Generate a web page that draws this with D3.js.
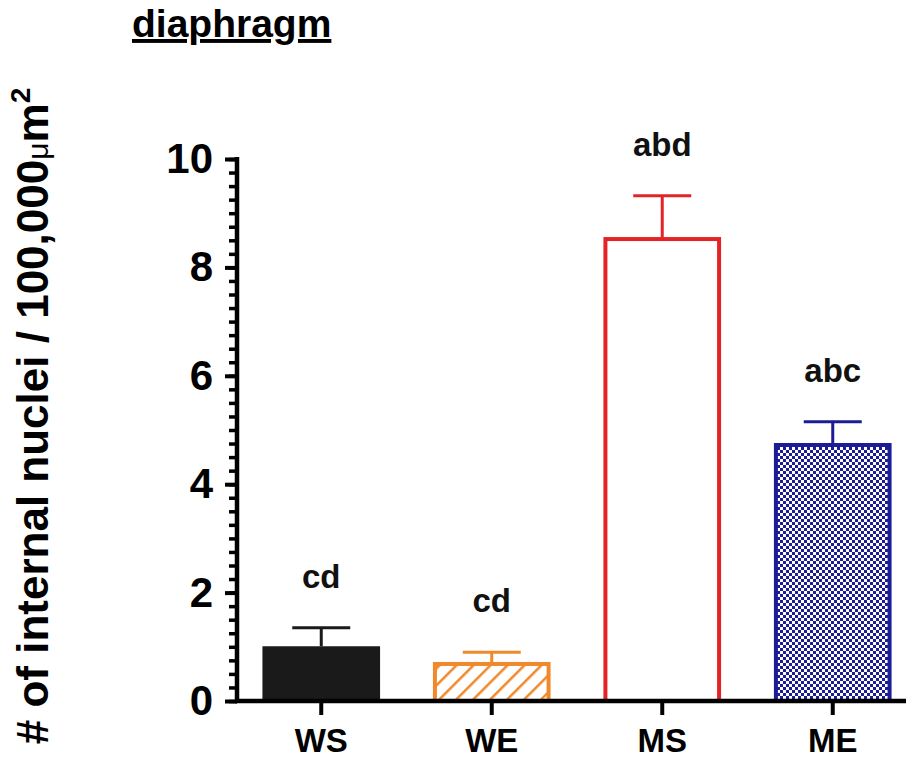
<!DOCTYPE html>
<html>
<head>
<meta charset="utf-8">
<script src="https://cdn.jsdelivr.net/npm/d3@7"></script>
<style>
  body { margin: 0; background: #fff; }
  text { font-family: "Liberation Sans", Arial, sans-serif; font-weight: bold; }
</style>
</head>
<body>
<div id="chart"></div>
<script>
// data
const groups = ['WS', 'WE', 'MS', 'ME'];
const means = [1.01, 0.72, 8.56, 4.76];
const errTops = [1.35, 0.90, 9.32, 5.15];
const letters = ['cd', 'cd', 'abd', 'abc'];
const yTicks = [0, 2, 4, 6, 8, 10];
const yMinorTicks = d3.range(0, 41).map(i => i * 0.25);

const W = 908, H = 774;
const svg = d3.select('#chart').append('svg')
  .attr('width', W)
  .attr('height', H);

// fill patterns
const defs = svg.append('defs');
const hatch = defs.append('pattern')
  .attr('id', 'hatch')
  .attr('patternUnits', 'userSpaceOnUse')
  .attr('width', 12).attr('height', 12)
  .attr('patternTransform', 'rotate(45)');
hatch.append('rect').attr('width', 12).attr('height', 12).attr('fill', '#fff');
hatch.append('line')
  .attr('x1', 0).attr('y1', 0).attr('x2', 0).attr('y2', 12)
  .attr('stroke', '#f0892b').attr('stroke-width', 5);

const checks = defs.append('pattern')
  .attr('id', 'checks')
  .attr('patternUnits', 'userSpaceOnUse')
  .attr('width', 6).attr('height', 6);
checks.append('rect').attr('width', 6).attr('height', 6).attr('fill', '#fff');
checks.append('rect').attr('width', 3).attr('height', 3).attr('fill', '#1c1c96');
checks.append('rect').attr('x', 3).attr('y', 3).attr('width', 3).attr('height', 3).attr('fill', '#1c1c96');

const strokes = ['#1a1a1a', '#f0892b', '#e42326', '#1c1c96'];
const fills = ['#1a1a1a', 'url(#hatch)', '#ffffff', 'url(#checks)'];

// scales
const x = d3.scaleBand().domain(groups).range([236, 918]).paddingInner(0.31).paddingOuter(0.155);
const y = d3.scaleLinear().domain([0, 10]).range([701, 159]);

// bars
svg.selectAll('rect.bar')
  .data(groups)
  .enter()
  .append('rect')
  .attr('class', 'bar')
  .attr('x', d => x(d) + 2)
  .attr('y', (d, i) => y(means[i]) + 2)
  .attr('width', x.bandwidth() - 4)
  .attr('height', (d, i) => y(0) - y(means[i]) - 2)
  .attr('fill', (d, i) => fills[i])
  .attr('stroke', (d, i) => strokes[i])
  .attr('stroke-width', 4);

// error bars (upper only)
const capW = 58;
groups.forEach((g, i) => {
  const cx = x(g) + x.bandwidth() / 2;
  svg.append('line')
    .attr('x1', cx).attr('x2', cx)
    .attr('y1', y(means[i])).attr('y2', y(errTops[i]))
    .attr('stroke', strokes[i]).attr('stroke-width', 3);
  svg.append('line')
    .attr('x1', cx - capW / 2).attr('x2', cx + capW / 2)
    .attr('y1', y(errTops[i])).attr('y2', y(errTops[i]))
    .attr('stroke', strokes[i]).attr('stroke-width', 3);
  svg.append('text')
    .attr('x', cx)
    .attr('y', y(errTops[i]) - 40)
    .attr('text-anchor', 'middle')
    .attr('font-size', 33)
    .attr('fill', '#111')
    .text(letters[i]);
});

// y axis, minor ticks first
const yMinor = svg.append('g')
  .attr('transform', 'translate(237,0)')
  .call(d3.axisLeft(y).tickValues(yMinorTicks).tickSize(8).tickFormat(''));
yMinor.selectAll('line').attr('stroke', '#000').attr('stroke-width', 3.5);
yMinor.select('.domain').remove();

const yAxis = svg.append('g')
  .attr('transform', 'translate(237,0)')
  .call(d3.axisLeft(y).tickValues(yTicks).tickSize(12).tickSizeOuter(0).tickPadding(12));
yAxis.select('.domain').attr('stroke', '#000').attr('stroke-width', 4.5)
  .attr('d', `M0,${y(10) - 2}V${y(0)}`);
yAxis.selectAll('line').attr('stroke', '#000').attr('stroke-width', 4);
yAxis.selectAll('text')
  .attr('font-size', 42)
  .attr('fill', '#000')
  .attr('font-family', '"Liberation Sans", Arial, sans-serif');

// x axis
const xAxis = svg.append('g')
  .attr('transform', `translate(0,${y(0)})`)
  .call(d3.axisBottom(x).tickSize(14).tickSizeOuter(0).tickPadding(14));
xAxis.select('.domain').attr('stroke', '#000').attr('stroke-width', 4.5)
  .attr('d', 'M235,0H906');
xAxis.selectAll('line').attr('stroke', '#000').attr('stroke-width', 4);
xAxis.selectAll('text')
  .attr('font-size', 33)
  .attr('fill', '#000')
  .attr('font-family', '"Liberation Sans", Arial, sans-serif');

// y title
const yTitle = svg.append('text')
  .attr('transform', 'translate(48,416) rotate(-90)')
  .attr('text-anchor', 'middle')
  .attr('font-size', 44)
  .attr('fill', '#000');
yTitle.append('tspan').text('# of internal nuclei / 100,000');
yTitle.append('tspan').attr('font-size', 30).attr('font-weight', 'normal').text('\u03bc');
yTitle.append('tspan').text('m');
yTitle.append('tspan').attr('font-size', 28).attr('dy', -18).text('2');

// panel title
svg.append('text')
  .attr('x', 132)
  .attr('y', 37)
  .attr('font-size', 39)
  .attr('fill', '#000')
  .attr('text-decoration', 'underline')
  .text('diaphragm');
</script>
</body>
</html>
